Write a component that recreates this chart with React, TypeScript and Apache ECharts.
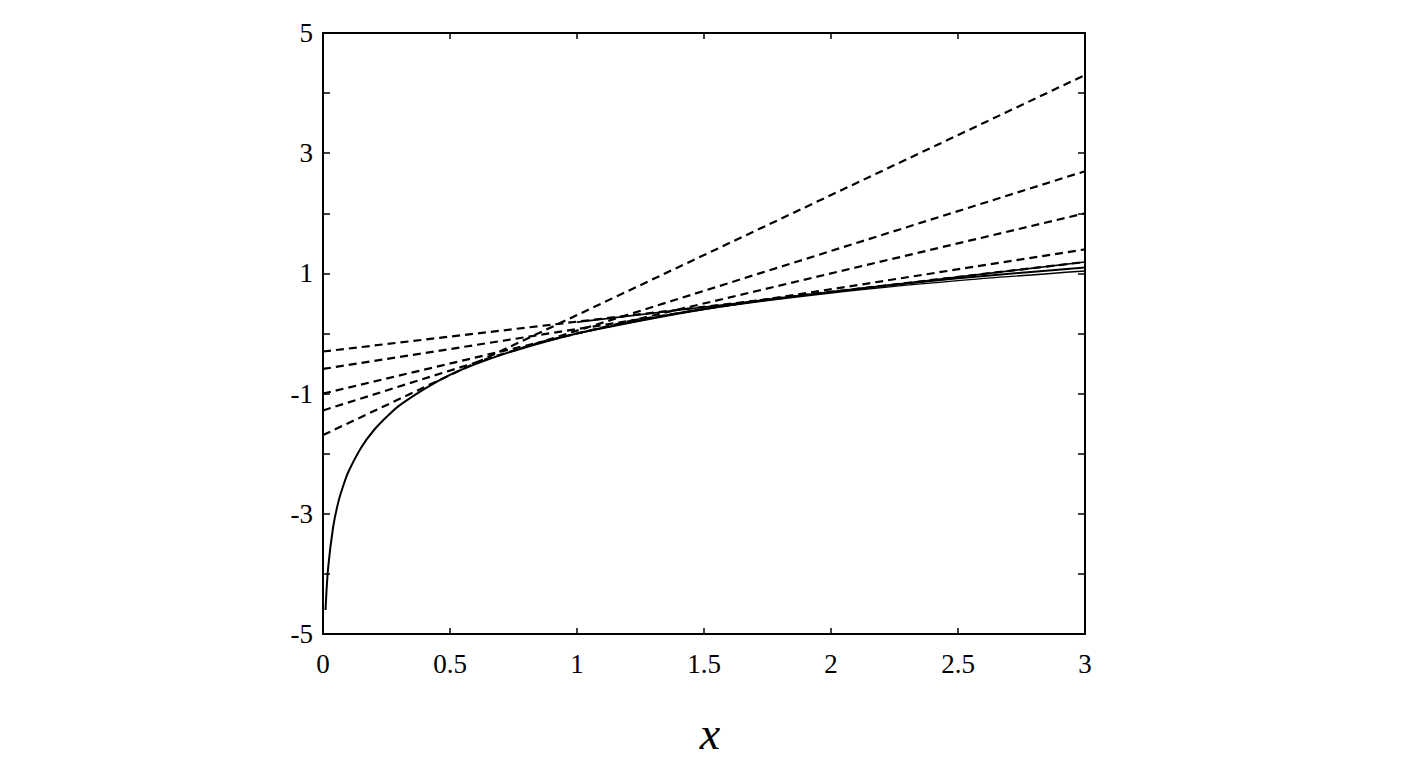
import React, { useEffect, useRef } from "react";
import * as echarts from "echarts";

// x tick labels
const xTicks = ["0", "0.5", "1", "1.5", "2", "2.5", "3"];
// y tick labels (only odd values labelled)
const yLabelled = [5, 3, 1, -1, -3, -5];

// solid curve (ln-like)
const curveX = [0.01, 0.02, 0.04, 0.06, 0.08, 0.1, 0.15, 0.2, 0.25, 0.3, 0.4, 0.5, 0.6, 0.75, 1, 1.25, 1.5, 1.75, 2, 2.25, 2.5, 2.75, 3];
const curveY = [-4.6, -3.91, -3.22, -2.81, -2.53, -2.3, -1.9, -1.61, -1.39, -1.2, -0.92, -0.69, -0.51, -0.29, 0, 0.22, 0.41, 0.56, 0.69, 0.81, 0.92, 1.01, 1.1];

// second solid curve, slightly below at the right end
const curve2X = [1, 1.5, 2, 2.5, 3];
const curve2Y = [0, 0.4, 0.675, 0.88, 1.04];

// upper solid segment
const segX = [1, 3];
const segY = [0.19, 1.19];

// dashed straight lines: value at x=0 and at x=3
const dashedX = [0, 3];
const dashA = [-1.69, 4.3];
const dashB = [-1.28, 2.7];
const dashC = [-1.0, 2.0];
const dashD = [-0.59, 1.4];
const dashE = [-0.3, 1.19];

const zip = (xs: number[], ys: number[]) => xs.map((x, i) => [x, ys[i]]);

export default function App() {
  const ref = useRef<HTMLDivElement>(null);
  useEffect(() => {
    if (!ref.current) return;
    const chart = echarts.init(ref.current, null, { renderer: "svg" });
    const font = "Liberation Serif";
    const dashedStyle = { color: "#000", width: 2.2, type: [8, 5] as any };
    const solidStyle = { color: "#000", width: 2 };
    const dashedSeries = [dashA, dashB, dashC, dashD, dashE].map((d, i) => ({
      name: "dash" + i,
      type: "line",
      data: zip(dashedX, d),
      showSymbol: false,
      lineStyle: dashedStyle,
      silent: true,
    }));
    chart.setOption({
      animation: false,
      backgroundColor: "#fff",
      grid: { left: 323, top: 33, width: 762, height: 601, containLabel: false },
      xAxis: [
        {
          type: "value",
          min: 0,
          max: 3,
          interval: 0.5,
          position: "bottom",
          axisLine: { show: true, onZero: false, lineStyle: { color: "#000", width: 2 } },
          axisTick: { show: true, inside: true, length: 6, lineStyle: { color: "#000", width: 1.5 } },
          axisLabel: {
            color: "#000",
            fontFamily: font,
            fontSize: 27,
            margin: 16,
            formatter: (v: number) => {
              const idx = Math.round(v / 0.5);
              return xTicks[idx] ?? "";
            },
          },
          splitLine: { show: false },
        },
        {
          type: "value",
          min: 0,
          max: 3,
          interval: 0.5,
          position: "top",
          axisLine: { show: true, onZero: false, lineStyle: { color: "#000", width: 2 } },
          axisTick: { show: true, inside: true, length: 6, lineStyle: { color: "#000", width: 1.5 } },
          axisLabel: { show: false },
          splitLine: { show: false },
        },
      ],
      yAxis: [
        {
          type: "value",
          min: -5,
          max: 5,
          interval: 1,
          position: "left",
          axisLine: { show: true, onZero: false, lineStyle: { color: "#000", width: 2 } },
          axisTick: { show: true, inside: true, length: 7, lineStyle: { color: "#000", width: 1.5 } },
          axisLabel: {
            color: "#000",
            fontFamily: font,
            fontSize: 27,
            margin: 10,
            formatter: (v: number) => (yLabelled.includes(v) ? String(v) : ""),
          },
          splitLine: { show: false },
        },
        {
          type: "value",
          min: -5,
          max: 5,
          interval: 1,
          position: "right",
          axisLine: { show: true, onZero: false, lineStyle: { color: "#000", width: 2 } },
          axisTick: { show: true, inside: true, length: 7, lineStyle: { color: "#000", width: 1.5 } },
          axisLabel: { show: false },
          splitLine: { show: false },
        },
      ],
      graphic: [
        {
          type: "text",
          x: 710,
          y: 733,
          style: {
            text: "x",
            font: "italic 46px \"Liberation Serif\", \"DejaVu Serif\", serif",
            fill: "#000",
            textAlign: "center",
            textVerticalAlign: "middle",
          },
        },
      ],
      series: [
        ...dashedSeries,
        {
          name: "curve",
          type: "line",
          data: zip(curveX, curveY),
          smooth: 0.3,
          showSymbol: false,
          lineStyle: solidStyle,
          silent: true,
        },
        {
          name: "curve2",
          type: "line",
          data: zip(curve2X, curve2Y),
          smooth: 0.3,
          showSymbol: false,
          lineStyle: { color: "#000", width: 1.4 },
          silent: true,
        },
        {
          name: "segment",
          type: "line",
          data: zip(segX, segY),
          showSymbol: false,
          lineStyle: { color: "#000", width: 1.6 },
          silent: true,
        },
      ],
    });
    return () => chart.dispose();
  }, []);
  return (
    <div
      ref={ref}
      style={{ position: "fixed", left: 0, top: 0, width: 1409, height: 763, background: "#fff" }}
    />
  );
}
